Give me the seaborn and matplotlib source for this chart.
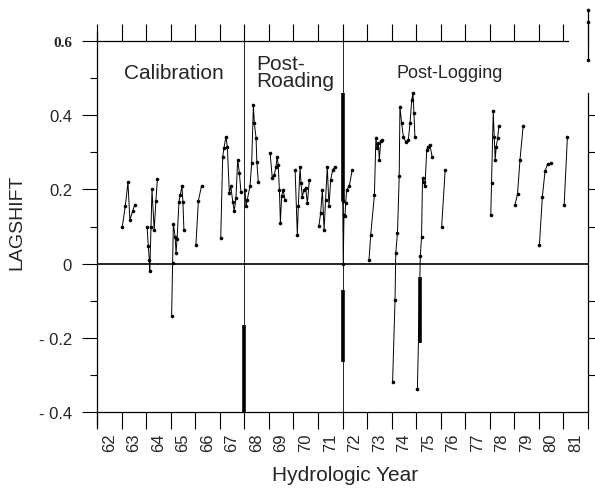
import numpy as np
import pandas as pd
import seaborn as sns
import matplotlib
matplotlib.use('Agg')
from matplotlib import pyplot as plt

# segments of LAGSHIFT, one per hydrologic year (x in fractional years)
seg63_x = [63.03, 63.15, 63.26, 63.34, 63.45, 63.54]
seg63_y = [0.099, 0.154, 0.219, 0.118, 0.141, 0.159]
seg64_x = [64.04, 64.09, 64.13, 64.15, 64.20, 64.24, 64.33, 64.40, 64.46]
seg64_y = [0.099, 0.047, 0.011, -0.021, 0.10, 0.20, 0.09, 0.17, 0.228]
seg65_x = [65.04, 65.08, 65.11, 65.18, 65.22, 65.26, 65.34, 65.39, 65.46, 65.50, 65.54]
seg65_y = [-0.14, 0.002, 0.108, 0.073, 0.029, 0.065, 0.167, 0.185, 0.208, 0.167, 0.091]
seg66_x = [66.03, 66.13, 66.26]
seg66_y = [0.051, 0.17, 0.21]
seg67_x = [67.04, 67.12, 67.17, 67.25, 67.31, 67.39, 67.45, 67.53, 67.59, 67.66, 67.73, 67.80, 67.86]
seg67_y = [0.069, 0.288, 0.311, 0.342, 0.315, 0.19, 0.208, 0.167, 0.141, 0.177, 0.28, 0.244, 0.194]
seg68_x = [68.03, 68.07, 68.12, 68.23, 68.30, 68.37, 68.41, 68.48, 68.51, 68.57]
seg68_y = [0.199, 0.154, 0.172, 0.208, 0.27, 0.427, 0.378, 0.338, 0.275, 0.221]
seg69_x = [69.05, 69.14, 69.22, 69.29, 69.34, 69.38, 69.43, 69.47, 69.52, 69.58, 69.66]
seg69_y = [0.299, 0.23, 0.239, 0.261, 0.288, 0.266, 0.199, 0.11, 0.181, 0.199, 0.172]
seg70_x = [70.07, 70.16, 70.20, 70.27, 70.31, 70.36, 70.43, 70.50, 70.57, 70.65]
seg70_y = [0.251, 0.078, 0.154, 0.26, 0.217, 0.18, 0.199, 0.204, 0.163, 0.226]
seg71_x = [71.04, 71.11, 71.18, 71.25, 71.31, 71.38, 71.45, 71.52, 71.60, 71.69]
seg71_y = [0.102, 0.136, 0.199, 0.091, 0.172, 0.26, 0.154, 0.226, 0.253, 0.26]
seg72_x = [72.01, 72.03, 72.06, 72.10, 72.13, 72.17, 72.28, 72.39]
seg72_y = [0.17, 0.0, 0.13, 0.127, 0.163, 0.199, 0.21, 0.251]
seg73_x = [73.08, 73.15, 73.30, 73.36, 73.41, 73.46, 73.50, 73.56, 73.61]
seg73_y = [0.011, 0.078, 0.185, 0.338, 0.311, 0.325, 0.28, 0.33, 0.333]
seg74_x = [74.04, 74.14, 74.17, 74.24, 74.31, 74.34, 74.41, 74.48, 74.57, 74.68, 74.75, 74.82, 74.87, 74.91, 74.95]
seg74_y = [-0.32, -0.097, 0.029, 0.083, 0.235, 0.423, 0.378, 0.342, 0.329, 0.333, 0.378, 0.441, 0.459, 0.405, 0.342]
seg75_x = [75.05, 75.17, 75.22, 75.26, 75.30, 75.36, 75.43, 75.49, 75.56, 75.65]
seg75_y = [-0.339, 0.02, 0.073, 0.23, 0.22, 0.208, 0.306, 0.315, 0.32, 0.288]
seg76_x = [76.04, 76.18]
seg76_y = [0.10, 0.251]
seg78_x = [78.04, 78.07, 78.14, 78.18, 78.22, 78.26, 78.32, 78.37]
seg78_y = [0.13, 0.217, 0.41, 0.342, 0.28, 0.315, 0.338, 0.371]
seg79_x = [79.03, 79.13, 79.23, 79.36]
seg79_y = [0.159, 0.188, 0.28, 0.371]
seg80_x = [80.02, 80.14, 80.25, 80.36, 80.49]
seg80_y = [0.049, 0.179, 0.25, 0.269, 0.27]
seg81_x = [81.03, 81.16]
seg81_y = [0.159, 0.34]
# off-scale piece at the right edge
seg82_x = [82.0, 82.0, 82.0]
seg82_y = [0.548, 0.65, 0.683]

# dense runs that print as solid bars
thick_x = [68.0, 72.0, 72.0, 75.16]
thick_lo = [-0.4, 0.17, -0.265, -0.215]
thick_hi = [-0.165, 0.46, -0.07, -0.035]

years = [str(y) for y in range(62, 82)]
ytick_vals = [-0.4, -0.2, 0, 0.2, 0.4, 0.6]
ytick_text = ['- 0.4', '- 0.2', '0', '0.2', '0.4', '0.6']

segs = [(seg63_x, seg63_y), (seg64_x, seg64_y), (seg65_x, seg65_y), (seg66_x, seg66_y),
        (seg67_x, seg67_y), (seg68_x, seg68_y), (seg69_x, seg69_y), (seg70_x, seg70_y),
        (seg71_x, seg71_y), (seg72_x, seg72_y), (seg73_x, seg73_y), (seg74_x, seg74_y),
        (seg75_x, seg75_y), (seg76_x, seg76_y), (seg78_x, seg78_y), (seg79_x, seg79_y),
        (seg80_x, seg80_y), (seg81_x, seg81_y)]
rows = []
for k, (xs, ys) in enumerate(segs):
    for i in range(len(xs)):
        rows.append([xs[i], ys[i], k, i])
df = pd.DataFrame(rows, columns=['year', 'lag', 'seg', 'order'])

sns.set_style('white')
plt.rcParams['font.family'] = ['Liberation Sans', 'DejaVu Sans']

fig = plt.figure(figsize=(5.95, 4.89), dpi=100)
ax = fig.add_axes([97 / 595, 1 - 413 / 489, 491 / 595, 371 / 489])

sns.lineplot(data=df, x='year', y='lag', units='seg', estimator=None, sort=False,
             color='black', lw=0.7, marker='o', markersize=2.6, markeredgewidth=0,
             ax=ax, legend=False)
ax.plot(seg82_x, seg82_y, color='black', lw=0.9, marker='o', markersize=2.6,
        markeredgewidth=0, clip_on=False)
ax.vlines(thick_x, thick_lo, thick_hi, color='black', lw=2.6)

ax.axhline(0, color='black', lw=1.2)
ax.axvline(68, color='black', lw=0.6)
ax.axvline(72, color='black', lw=0.6)

ax.set_xlim(62, 82)
ax.set_ylim(-0.4, 0.6)

# year ticks at the boundaries, labels centred in each year
ax.set_xticks(np.arange(62, 83))
ax.set_xticklabels([])
ax.set_xticks(np.arange(62.5, 82, 1), minor=True)
ax.set_xticklabels(years, minor=True, rotation=90, fontsize=12)
ax.tick_params(axis='x', which='major', direction='out', length=12, width=0.8,
               top=True, bottom=True, color='black')
ax.tick_params(axis='x', which='minor', length=0, pad=15)

ax.set_yticks(ytick_vals)
ax.set_yticklabels(ytick_text, fontsize=12)
ax.set_yticks([-0.3, -0.1, 0.1, 0.3, 0.5], minor=True)
ax.tick_params(axis='y', which='major', direction='out', length=11, width=0.8, pad=7,
               left=True, right=False, color='black')
ax.tick_params(axis='y', which='minor', direction='out', length=5, width=0.8,
               left=True, right=False, color='black')
for lbl in ax.get_yticklabels():
    if lbl.get_text() == '0.6':
        lbl.set_fontfamily('Liberation Serif')
        lbl.set_fontweight('bold')
        lbl.set_fontsize(11)

# right-hand ticks every 0.1
ax2 = ax.twinx()
ax2.set_ylim(-0.4, 0.6)
ax2.set_yticks([-0.3, -0.2, -0.1, 0.1, 0.2, 0.3, 0.4])
ax2.set_yticklabels([])
ax2.tick_params(axis='y', direction='out', length=6, width=0.8, color='black')
for s in ax2.spines.values():
    s.set_visible(False)

for s in ax.spines.values():
    s.set_color('black')
    s.set_linewidth(0.9)
ax.spines['right'].set_bounds(-0.4, 0.46)
ax.spines['top'].set_bounds(62, 81.2)
ax.spines['left'].set_bounds(-0.44, 0.625)

ax.set_xlabel('Hydrologic Year', fontsize=15)
ax.xaxis.set_label_coords(0.505, -0.143)
ax.set_ylabel('LAGSHIFT', fontsize=14)
ax.yaxis.set_label_coords(-0.145, 0.515)

ax.text(65.15, 0.515, 'Calibration', fontsize=15, ha='center', va='center')
ax.text(68.5, 0.565, 'Post-\nRoading', fontsize=15, ha='left', va='top', linespacing=0.85)
ax.text(76.35, 0.515, 'Post-Logging', fontsize=13, ha='center', va='center')

plt.savefig('out.png', dpi=100)
